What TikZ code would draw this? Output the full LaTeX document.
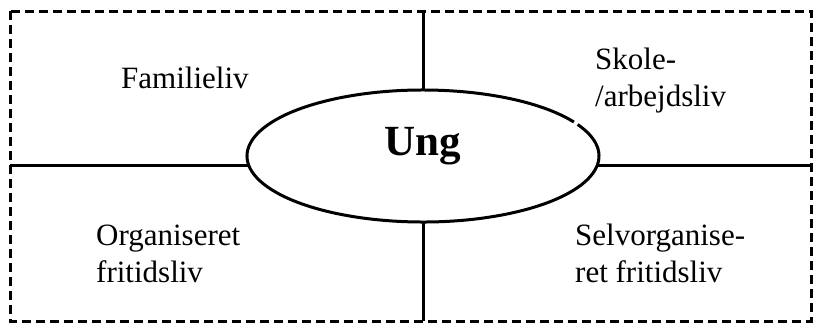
\documentclass[tikz,border=0pt]{standalone}
\usepackage{fontspec}
\setmainfont{Liberation Serif}
\usetikzlibrary{shapes.geometric}
\begin{document}
\begin{tikzpicture}[x=1pt,y=-1pt,
  lbl/.style={anchor=base west,inner sep=0pt,align=left,font=\fontsize{31}{36.5}\selectfont},
  divider/.style={line width=3pt}]
  \useasboundingbox (0,0) rectangle (813,324);
  % dashed frame
  \coordinate (tl) at (10,11);
  \coordinate (br) at (811,321);
  \draw[line width=3pt,dash pattern=on 9pt off 5pt] (tl) rectangle (br);

  % centre ellipse (small gap at upper right)
  \node[ellipse,minimum width=352pt,minimum height=132pt,inner sep=0pt,outer sep=0pt] (ung) at (423,156) {};
  \draw[divider] ([shift={(31:176pt and 66pt)}]ung.center) arc[start angle=31,end angle=388.5,x radius=176pt,y radius=66pt];
  \node[anchor=base,inner sep=0pt,font=\fontsize{43}{50}\selectfont\bfseries] (ungtxt) at (423,155) {Ung};

  % dividers
  \draw[divider] (ung.north) -- (ung.north |- tl);
  \draw[divider] (ung.south) -- (ung.south |- br);
  \draw[divider] (ung.183) -- (ung.183 -| tl);
  \draw[divider] (ung.-3) -- (ung.-3 -| br);

  % quadrant labels (base = last line)
  \node[lbl] (familie) at (121,88) {Familieliv};
  \node[lbl] (skole) at (595,106) {Skole-\\/arbejdsliv};
  \node[lbl] (organiseret) at (96,282) {Organiseret\\fritidsliv};
  \node[lbl] (selvorg) at (575,282) {Selvorganise-\\ret fritidsliv};
\end{tikzpicture}
\end{document}
